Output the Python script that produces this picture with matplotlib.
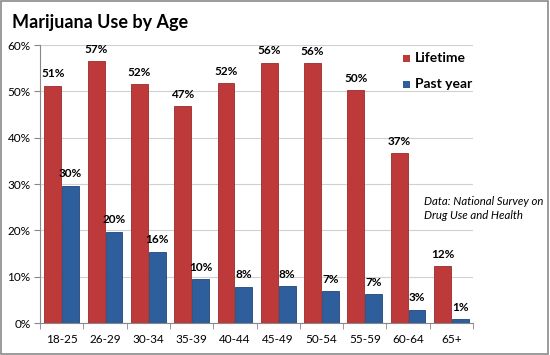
import numpy as np
import matplotlib
matplotlib.use("Agg")
import matplotlib.pyplot as plt
from matplotlib.patches import Rectangle

plt.rcParams['font.family'] = ['Lato', 'DejaVu Sans']

ages = ['18-25', '26-29', '30-34', '35-39', '40-44', '45-49', '50-54', '55-59', '60-64', '65+']
lifetime = [51.2, 56.5, 51.6, 46.8, 51.8, 56.2, 56.1, 50.2, 36.6, 12.3]
past_year = [29.6, 19.7, 15.4, 9.5, 7.8, 8.0, 6.9, 6.2, 2.9, 0.8]
lifetime_labels = ['51%', '57%', '52%', '47%', '52%', '56%', '56%', '50%', '37%', '12%']
past_labels = ['30%', '20%', '16%', '10%', '8%', '8%', '7%', '7%', '3%', '1%']

red = '#BE3A3A'
blue = '#2F5E9C'

fig = plt.figure(figsize=(5.5, 3.55), dpi=100)
fig.patches.append(Rectangle((0.002, 0.003), 0.995, 0.994, transform=fig.transFigure,
                             fill=False, edgecolor='#8a8a8a', linewidth=1.2))
ax = fig.add_axes([0.073, 0.09, 0.787, 0.783])

x = np.arange(len(ages))
w = 0.39
b1 = ax.bar(x - w / 2 - 0.01, lifetime, w, color=red, edgecolor='#9a2a2a', linewidth=0.6, zorder=3)
b2 = ax.bar(x + w / 2 + 0.01, past_year, w, color=blue, edgecolor='#1f4577', linewidth=0.6, zorder=3)

for rect, lab in zip(b1, lifetime_labels):
    ax.text(rect.get_x() + rect.get_width() / 2, rect.get_height() + 1.4, lab,
            ha='center', va='bottom', fontsize=8.5, fontweight='bold')
for rect, lab in zip(b2, past_labels):
    ax.text(rect.get_x() + rect.get_width() / 2, rect.get_height() + 1.4, lab,
            ha='center', va='bottom', fontsize=8.5, fontweight='bold')

ax.set_xlim(-0.5, len(ages) - 0.5)
ax.set_ylim(0, 60)
ax.set_yticks(range(0, 61, 10))
ax.set_yticklabels(['%d%%' % v for v in range(0, 61, 10)], fontsize=8.5)
ax.set_xticks(x)
ax.set_xticklabels(ages, fontsize=8.5)
ax.set_xticks(np.arange(-0.5, len(ages), 1), minor=True)
ax.tick_params(axis='x', which='major', length=0, pad=8)
ax.tick_params(axis='x', which='minor', length=4, color='#888888')
ax.tick_params(axis='y', length=4, color='#888888', pad=3)
ax.grid(axis='y', color='#d0d0d0', linewidth=0.8, zorder=0)
for s in ['top', 'right']:
    ax.spines[s].set_visible(False)
ax.spines['left'].set_color('#888888')
ax.spines['bottom'].set_color('#888888')

fig.text(0.022, 0.938, 'Marijuana Use by Age', fontsize=13, fontweight='bold', va='center')

# legend
for yy, col, lab in [(0.836, red, 'Lifetime'), (0.763, blue, 'Past year')]:
    fig.patches.append(Rectangle((0.733, yy - 0.011), 0.0125, 0.02, transform=fig.transFigure,
                                 facecolor=col, edgecolor='none', zorder=5))
    fig.text(0.755, yy, lab, fontsize=10, fontweight='bold', va='center')

fig.text(0.771, 0.447, 'Data: National Survey on\nDrug Use and Health', fontsize=8.2,
         style='italic', va='top', linespacing=1.3)

fig.savefig('out.png', dpi=100)
